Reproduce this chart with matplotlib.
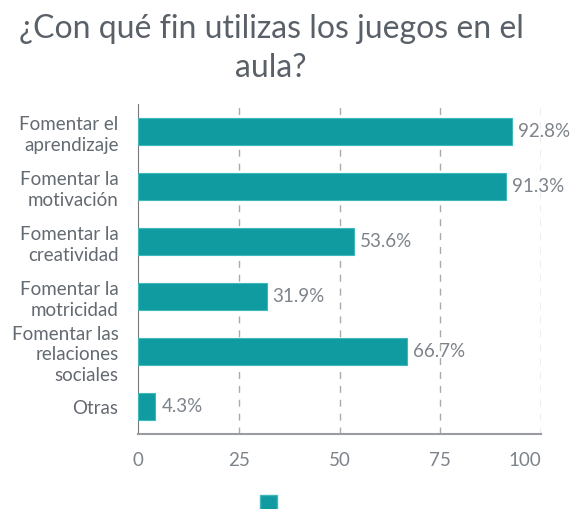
import matplotlib
matplotlib.use("Agg")
import matplotlib.pyplot as plt
from matplotlib.patches import Patch

categories = ["Fomentar el\naprendizaje", "Fomentar la\nmotivación", "Fomentar la\ncreatividad",
              "Fomentar la\nmotricidad", "Fomentar las\nrelaciones\nsociales", "Otras"]
values = [92.8, 91.3, 53.6, 31.9, 66.7, 4.3]
xticks = [0, 25, 50, 75, 100]

plt.rcParams['font.family'] = ['Lato', 'DejaVu Sans']
teal = "#0f9ba0"
txt = "#646a72"

fig = plt.figure(figsize=(5.71, 5.09), dpi=100)
ax = fig.add_axes([138/571, 1-434/509, (541-138)/571, 330/509])
y = list(range(len(categories)))
ax.barh(y, values, height=0.5, color=teal, edgecolor="#3fb8bc", linewidth=0.8, zorder=3)
ax.set_ylim(len(categories)-0.5, -0.5)
ax.set_xlim(0, 100)
ax.set_yticks(y)
ax.set_yticklabels(categories, fontsize=13.5, color=txt, linespacing=1.28)
ax.set_xticks(xticks)
ax.set_xticklabels([str(t) for t in xticks], fontsize=13.5, color="#7d838a")
ax.get_xticklabels()[-1].set_horizontalalignment('right')
ax.tick_params(axis='y', length=0, pad=14)
ax.tick_params(axis='x', length=0, pad=13)
for v, yy in zip(values, y):
    ax.text(v + 1.5, yy, f"{v}%", va='center', ha='left', fontsize=13.5, color="#7d838a", zorder=4)
for t in xticks[1:]:
    ax.axvline(t, color="#aaaaaa", linestyle=(0, (5, 5)), linewidth=1, zorder=1)
for s in ['top', 'right']:
    ax.spines[s].set_visible(False)
ax.spines['left'].set_color("#777b80")
ax.spines['bottom'].set_color("#999da2")
ax.spines['bottom'].set_linewidth(1.5)

fig.text(271/571, 1-29/509, "¿Con qué fin utilizas los juegos en el", ha='center', va='center',
         fontsize=23, color="#5a6068")
fig.text(271/571, 1-68/509, "aula?", ha='center', va='center', fontsize=23, color="#5a6068")

fig.legend(handles=[Patch(facecolor=teal, edgecolor="#3fb8bc")], labels=[""], loc='center',
           bbox_to_anchor=(274/571, 1-503/509), frameon=False, handlelength=1.2, handleheight=1.4)

fig.savefig("out.png", dpi=100)
